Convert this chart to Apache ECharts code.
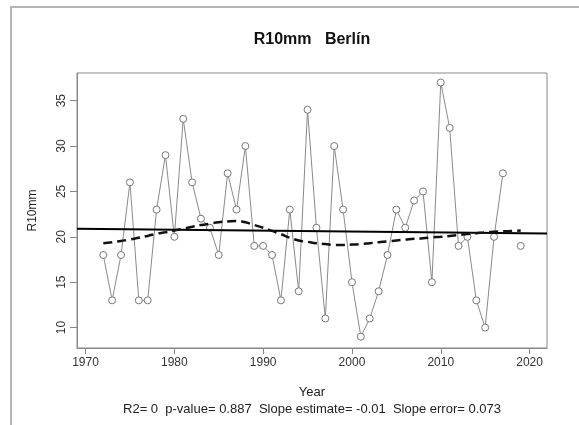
<!DOCTYPE html>
<html>
<head>
<meta charset="utf-8">
<script src="https://cdn.jsdelivr.net/npm/echarts@6/dist/echarts.min.js"></script>
<style>
  html, body { margin: 0; padding: 0; background: #fff; }
  #chart { width: 579px; height: 425px; }
</style>
</head>
<body>
<div id="chart"></div>
<script>
// valores anuales (2018 sin dato)
const years = [1972, 1973, 1974, 1975, 1976, 1977, 1978, 1979, 1980, 1981, 1982, 1983,
  1984, 1985, 1986, 1987, 1988, 1989, 1990, 1991, 1992, 1993, 1994, 1995, 1996, 1997,
  1998, 1999, 2000, 2001, 2002, 2003, 2004, 2005, 2006, 2007, 2008, 2009, 2010, 2011,
  2012, 2013, 2014, 2015, 2016, 2017, 2018, 2019]
const r10mm = [18, 13, 18, 26, 13, 13, 23, 29, 20, 33, 26, 22,
  21, 18, 27, 23, 30, 19, 19, 18, 13, 23, 14, 34, 21, 11,
  30, 23, 15, 9, 11, 14, 18, 23, 21, 24, 25, 15, 37, 32,
  19, 20, 13, 10, 20, 27, null, 19]

// curva suavizada (discontinua)
const smooth = [19.3, 19.4, 19.55, 19.7, 19.9, 20.1, 20.35, 20.5, 20.7, 20.9, 21.1, 21.3,
  21.45, 21.6, 21.7, 21.75, 21.6, 21.3, 21.0, 20.65, 20.3, 19.9, 19.6, 19.45, 19.3, 19.2,
  19.1, 19.1, 19.15, 19.2, 19.3, 19.4, 19.5, 19.6, 19.7, 19.8, 19.85, 19.95, 20.0, 20.1,
  20.2, 20.3, 20.4, 20.5, 20.55, 20.6, 20.65, 20.7]

// recta de tendencia (abline)
const trendX = [1969.04, 2021.96]
const trendY = [20.88, 20.36]

const xTicks = [1970, 1980, 1990, 2000, 2010, 2020]
const yTicks = [10, 15, 20, 25, 30, 35]

const statsText = 'R2= 0  p-value= 0.887  Slope estimate= -0.01  Slope error= 0.073'

const font = 'Liberation Sans, Arial, sans-serif'

const chart = echarts.init(document.getElementById('chart'))
const option = {
  animation: false,
  backgroundColor: '#fff',
  textStyle: { fontFamily: font },
  grid: {
    left: 77,
    right: 32,
    top: 73,
    bottom: 77,
    show: true,
    borderColor: '#888',
    borderWidth: 1
  },
  xAxis: {
    type: 'value',
    min: 1969.04,
    max: 2021.96,
    name: 'Year',
    nameLocation: 'middle',
    nameGap: 38,
    nameTextStyle: { fontSize: 13, color: '#222', fontFamily: font },
    splitLine: { show: false },
    axisLine: { show: true, lineStyle: { color: '#888' } },
    axisTick: { show: true, length: 6, customValues: xTicks, lineStyle: { color: '#888' } },
    axisLabel: {
      customValues: xTicks,
      margin: 9,
      fontSize: 12,
      color: '#333',
      fontFamily: font,
      formatter: v => String(v)
    }
  },
  yAxis: {
    type: 'value',
    min: 7.75,
    max: 38.05,
    name: 'R10mm',
    nameLocation: 'middle',
    nameGap: 38,
    nameTextStyle: { fontSize: 12, color: '#222', fontFamily: font },
    splitLine: { show: false },
    axisLine: { show: true, lineStyle: { color: '#888' } },
    axisTick: { show: true, length: 7, customValues: yTicks, lineStyle: { color: '#888' } },
    axisLabel: {
      customValues: yTicks,
      rotate: 90,
      margin: 9,
      fontSize: 12,
      color: '#333',
      fontFamily: font,
      formatter: v => String(v)
    }
  },
  graphic: [
    {
      type: 'rect',
      shape: { x: 11, y: 7, width: 700, height: 500 },
      style: { fill: 'none', stroke: '#b5b5b5', lineWidth: 2 },
      silent: true
    },
    {
      type: 'text',
      x: 312,
      y: 40,
      style: {
        text: 'R10mm   Berlín',
        fontSize: 16,
        fontWeight: 'bold',
        fontFamily: font,
        fill: '#111',
        align: 'center',
        verticalAlign: 'middle'
      }
    },
    {
      type: 'text',
      x: 312,
      y: 409,
      style: {
        text: statsText,
        fontSize: 13,
        fontFamily: font,
        fill: '#222',
        align: 'center',
        verticalAlign: 'middle'
      }
    }
  ],
  series: [
    {
      name: 'R10mm',
      type: 'line',
      z: 1,
      data: years.map((y, i) => [y, r10mm[i]]),
      connectNulls: false,
      symbol: 'circle',
      symbolSize: 7,
      lineStyle: { color: '#8a8a8a', width: 1 },
      itemStyle: { color: '#fff', borderColor: '#777', borderWidth: 1 }
    },
    {
      name: 'trend',
      type: 'line',
      z: 3,
      data: trendX.map((x, i) => [x, trendY[i]]),
      symbol: 'none',
      lineStyle: { color: '#000', width: 2 }
    },
    {
      name: 'smooth',
      type: 'line',
      z: 3,
      data: years.map((y, i) => [y, smooth[i]]),
      symbol: 'none',
      smooth: true,
      lineStyle: { color: '#111', width: 2.5, type: [9, 5] }
    }
  ]
}
chart.setOption(option)
</script>
</body>
</html>
